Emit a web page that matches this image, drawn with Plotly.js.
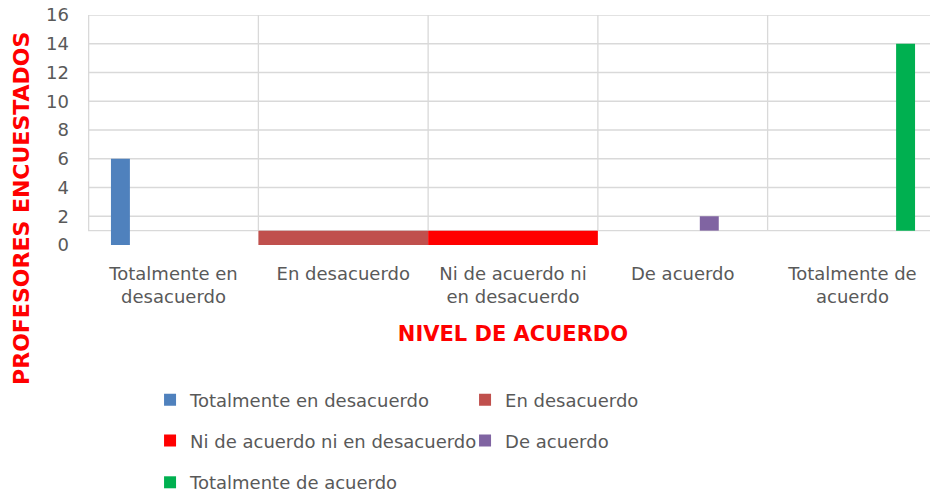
<!DOCTYPE html>
<html>
<head>
<meta charset="utf-8">
<script src="https://cdn.plot.ly/plotly-3.0.1.min.js"></script>
<style>
html, body {margin:0; padding:0; overflow:hidden; background:#fff;}
</style>
</head>
<body>
<div id="plot"></div>
<script>
////////// DATA ///////////////
const categories = ["Totalmente en desacuerdo", "En desacuerdo", "Ni de acuerdo ni en desacuerdo", "De acuerdo", "Totalmente de acuerdo"]
const tickLabels = ["Totalmente en<br>desacuerdo", "En desacuerdo", "Ni de acuerdo ni<br>en desacuerdo", "De acuerdo", "Totalmente de<br>acuerdo"]
const barTops = [6, 1, 1, 2, 14]
const barBases = [0, 0, 0, 1, 1]
const yTicks = [0, 2, 4, 6, 8, 10, 12, 14, 16]
const gridVals = [1, 2, 4, 6, 8, 10, 12, 14, 16]

////////// STYLE ///////////////
const colors = ["#4f81bd", "#c0504d", "#ff0000", "#8064a2", "#00b050"]
const legendOf = ["legend", "legend", "legend2", "legend2", "legend3"]
const fontFam = "DejaVu Sans, Verdana, sans-serif"
const grey = "#595959"
const gridGrey = "#d9d9d9"

let data = categories.map(function(name, i){
  let tr = {
    type: 'bar',
    name: name,
    x: [categories[i]],
    y: [barTops[i] - barBases[i]],
    base: [barBases[i]],
    marker: {color: colors[i], line: {width: 0}},
    alignmentgroup: 'all',
    offsetgroup: 'g' + i,
    legend: legendOf[i]
  }
  // the two "desacuerdo" series fill their whole category
  if (i === 1 || i === 2) {
    tr.width = 1
    tr.offset = -0.5
  }
  return tr
})

////// grid drawn as shapes: the bottom line sits at 1, not 0 //////
let shapes = []
gridVals.forEach(function(v){
  shapes.push({type: 'line', layer: 'below', xref: 'paper', x0: 0, x1: 1, yref: 'y', y0: v, y1: v,
    line: {color: gridGrey, width: 1.3}})
})
for (let i = 0; i <= categories.length; i++) {
  shapes.push({type: 'line', layer: 'below', xref: 'x', x0: i - 0.5, x1: i - 0.5,
    yref: 'y', y0: gridVals[0], y1: gridVals[gridVals.length - 1],
    line: {color: gridGrey, width: 1.3}})
}

// one legend per row, placed against the whole page
function legendRow(y){
  return {
    orientation: 'h',
    xref: 'paper', x: 0.073, xanchor: 'left',
    yref: 'container', y: y, yanchor: 'middle',
    entrywidth: 270, entrywidthmode: 'pixels',
    traceorder: 'normal',
    bgcolor: 'rgba(0,0,0,0)',
    font: {family: fontFam, size: 18, color: grey}
  }
}

let layout = {
  width: 940,
  height: 497,
  margin: {l: 88, r: 2, t: 15, b: 252},
  paper_bgcolor: '#fff',
  plot_bgcolor: '#fff',
  barmode: 'group',
  bargap: 0.218,
  bargroupgap: 0.286,
  font: {family: fontFam, color: grey},
  showlegend: true,
  xaxis: {
    type: 'category',
    categoryorder: 'array', categoryarray: categories,
    tickvals: categories, ticktext: tickLabels,
    showgrid: false, showline: false, zeroline: false,
    ticks: '',
    tickfont: {family: fontFam, size: 18, color: grey},
    ticklabelstandoff: 16,
    automargin: false,
    title: {text: 'NIVEL DE ACUERDO', standoff: 19, font: {family: fontFam, size: 21, color: '#ff0000', weight: 700}}
  },
  yaxis: {
    range: [0, 16],
    tickvals: yTicks,
    showgrid: false, zeroline: false, showline: false,
    ticks: '',
    tickfont: {family: fontFam, size: 18, color: grey},
    ticklabelstandoff: 18,
    automargin: false
  },
  shapes: shapes,
  legend: legendRow(0.195),
  legend2: legendRow(0.113),
  legend3: legendRow(0.029),
  annotations: [
    {
      text: 'PROFESORES ENCUESTADOS', showarrow: false, textangle: -90,
      xref: 'paper', x: -0.0776, xanchor: 'center',
      yref: 'paper', y: 0.157, yanchor: 'middle',
      font: {family: fontFam, size: 22, color: '#ff0000', weight: 700}
    }
  ]
}

let config = {displayModeBar: false, staticPlot: true}

Plotly.newPlot('plot', data, layout, config)
</script>
</body>
</html>
